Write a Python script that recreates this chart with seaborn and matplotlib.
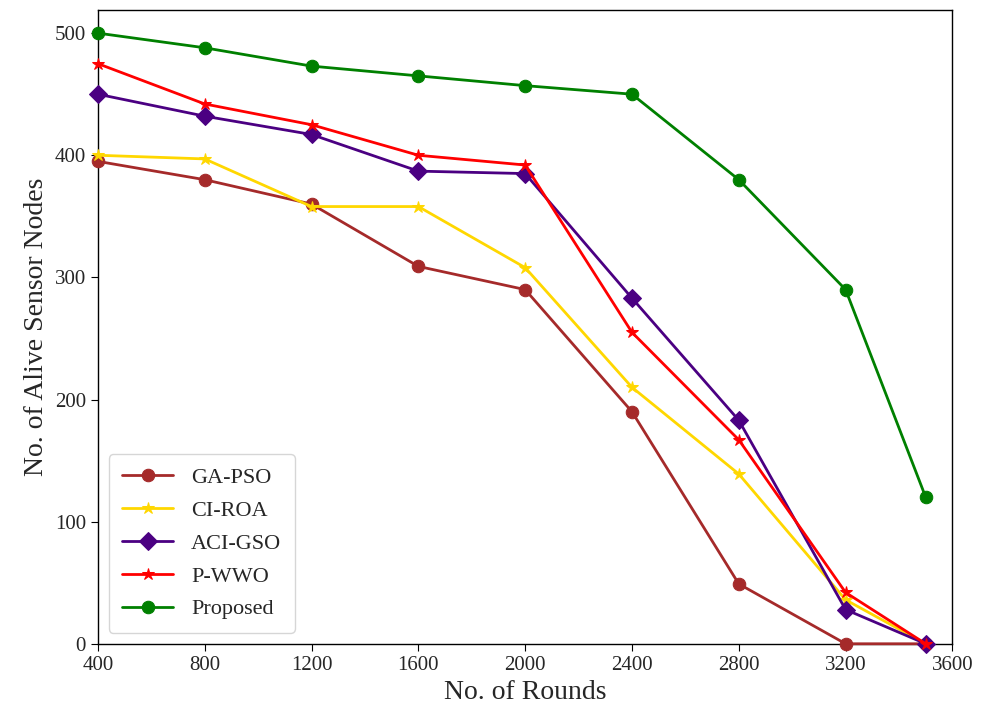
import matplotlib
matplotlib.use("Agg")
import matplotlib.pyplot as plt
import seaborn as sns
import pandas as pd

rounds = [400, 800, 1200, 1600, 2000, 2400, 2800, 3200, 3500]
ga_pso = [395, 380, 360, 309, 290, 190, 49, 0, 0]
ci_roa = [400, 397, 358, 358, 308, 210, 139, 36, 0]
aci_gso = [450, 432, 417, 387, 385, 283, 183, 28, 0]
p_wwo = [475, 442, 425, 400, 392, 255, 167, 42, 0]
proposed = [500, 488, 473, 465, 457, 450, 380, 290, 120]

series = [
    ("GA-PSO", ga_pso, "#A52A2A", "o", 9),
    ("CI-ROA", ci_roa, "#FFD700", "*", 9),
    ("ACI-GSO", aci_gso, "#4B0082", "D", 9),
    ("P-WWO", p_wwo, "#FF0000", "*", 9),
    ("Proposed", proposed, "#008000", "o", 9),
]

sns.set_style("ticks")
plt.rcParams['font.family'] = ['Liberation Serif', 'DejaVu Serif']

fig = plt.figure(figsize=(9.89, 7.09), dpi=100)
ax = fig.add_axes([0.099, 0.092, 0.864, 0.894])

for name, vals, color, marker, ms in series:
    df = pd.DataFrame({"x": rounds, "y": vals})
    sns.lineplot(data=df, x="x", y="y", ax=ax, color=color, marker=marker,
                 markersize=ms, markeredgecolor=color, linewidth=2, label=name,
                 clip_on=False)

ax.set_xlim(400, 3600)
ax.set_ylim(0, 519)
ax.set_xticks([400, 800, 1200, 1600, 2000, 2400, 2800, 3200, 3600])
ax.set_yticks([0, 100, 200, 300, 400, 500])
ax.tick_params(labelsize=15, direction="out", length=5, color="black")
ax.set_xlabel("No. of Rounds", fontsize=20)
ax.set_ylabel("No. of Alive Sensor Nodes", fontsize=20)
for s in ax.spines.values():
    s.set_visible(True)
    s.set_color("black")
    s.set_linewidth(1.0)
    s.set_zorder(1)

leg = ax.legend(loc="lower left", fontsize=16, frameon=True, borderpad=0.6,
                labelspacing=0.55, handlelength=2.3, bbox_to_anchor=(0.0, 0.0))
leg.get_frame().set_edgecolor("#cccccc")

fig.savefig("out.png", dpi=100)
